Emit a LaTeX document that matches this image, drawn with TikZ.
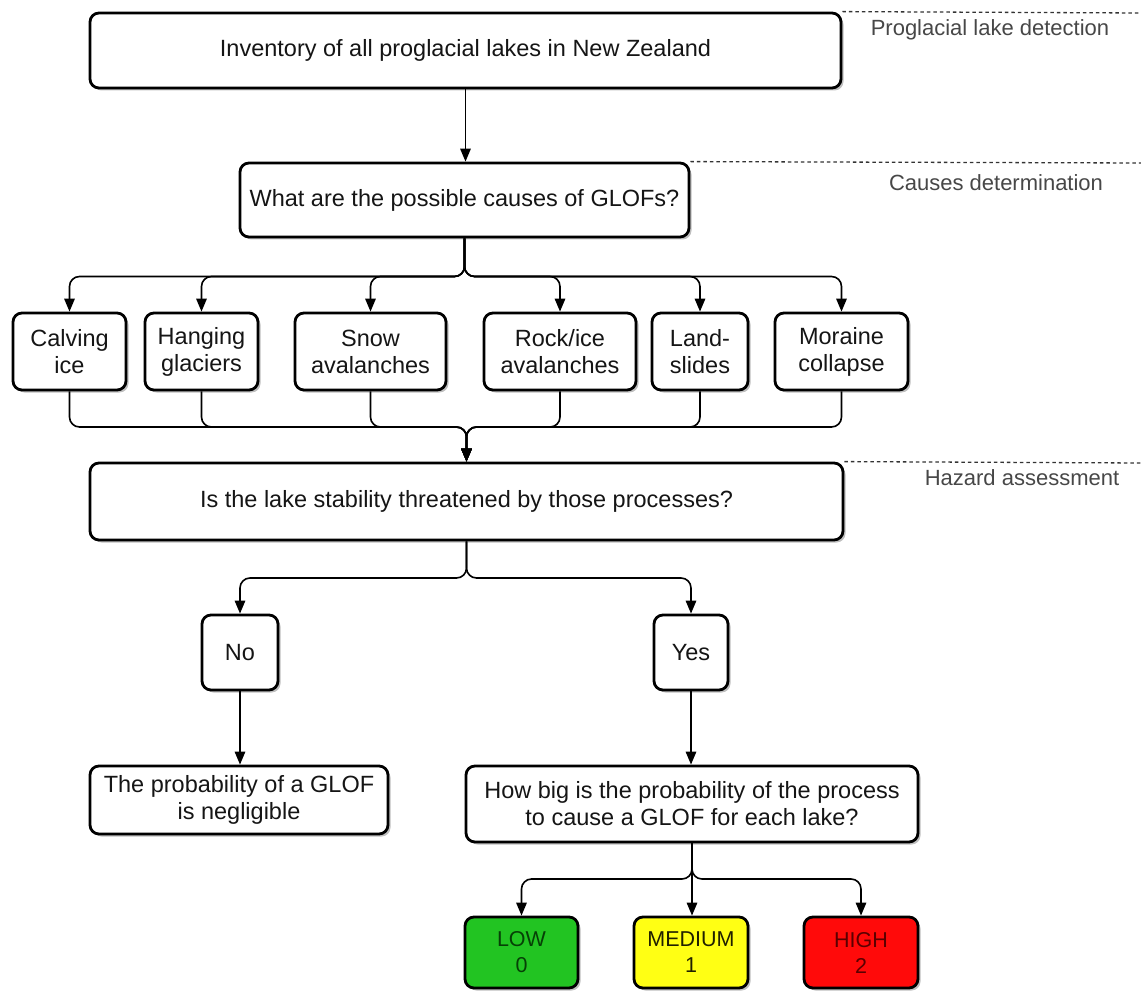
\documentclass[tikz,border=0pt]{standalone}
\usepackage{fontspec}
\setmainfont{Liberation Sans}
\usetikzlibrary{arrows.meta,shadows}
\definecolor{txt}{HTML}{151515}
\definecolor{lowfill}{HTML}{22C422}
\definecolor{lowtxt}{HTML}{064006}
\definecolor{medfill}{HTML}{FFFF14}
\definecolor{medtxt}{HTML}{202000}
\definecolor{highfill}{HTML}{FF0A0A}
\definecolor{hightxt}{HTML}{5A0000}
\begin{document}
\begin{tikzpicture}[x=1pt,y=-1pt,
  box/.style={draw=black, line width=2.8pt, rounded corners=9pt, fill=white, align=center,
    text=txt, inner sep=0pt, font=\fontsize{23.5}{27}\selectfont,
    drop shadow={shadow xshift=2.5pt, shadow yshift=-2.5pt, fill=black, opacity=0.25}},
  cause/.style={box, font=\fontsize{23.5}{27}\selectfont},
  level/.style={box, font=\fontsize{21.5}{26}\selectfont},
  conn/.style={line width=1.6pt, rounded corners=10pt},
  arr/.style={conn, -{Triangle[length=13pt,width=10.5pt]}},
  phase/.style={draw=black!80, line width=1.3pt, dash pattern=on 3.5pt off 3pt},
  lab/.style={text=black!72, font=\fontsize{22}{26}\selectfont, inner sep=0pt}]
\useasboundingbox (0,0) rectangle (1141,992);

% main boxes
\node[box, minimum width=751pt, minimum height=75pt] (top) at (465.5,50.5) {Inventory of all proglacial lakes in New Zealand};
\node[box, minimum width=449pt, minimum height=74pt] (q2) at (464.5,200) {What are the possible causes of GLOFs?};

% causes
\node[cause, minimum width=113pt, minimum height=77pt] (c1) at (69.5,351.5) {Calving\\ice};
\node[cause, minimum width=113pt, minimum height=77pt] (c2) at (201.5,351.5) {Hanging\\glaciers};
\node[cause, minimum width=151pt, minimum height=77pt] (c3) at (370.5,351.5) {Snow\\avalanches};
\node[cause, minimum width=152pt, minimum height=77pt] (c4) at (560,351.5) {Rock/ice\\avalanches};
\node[cause, minimum width=96pt, minimum height=77pt] (c5) at (700,351.5) {Land-\\slides};
\node[cause, minimum width=133pt, minimum height=77pt] (c6) at (841.5,351.5) {Moraine\\collapse};

\node[box, minimum width=753pt, minimum height=77pt] (q3) at (466.5,501.5) {Is the lake stability threatened by those processes?};

\node[box, minimum width=76pt, minimum height=75pt] (no) at (240,652.5) {No};
\node[box, minimum width=74pt, minimum height=75pt] (yes) at (691,652.5) {Yes};

\node[box, minimum width=298pt, minimum height=68pt] (neg) at (239,800) {The probability of a GLOF\\is negligible};
\node[box, minimum width=452pt, minimum height=76pt] (how) at (692,804) {How big is the probability of the process\\to cause a GLOF for each lake?};

\node[level, fill=lowfill, text=lowtxt, minimum width=113pt, minimum height=71pt] (low) at (521.5,952.5) {LOW\\0};
\node[level, fill=medfill, text=medtxt, minimum width=114pt, minimum height=71pt] (med) at (691,952.5) {MEDIUM\\1};
\node[level, fill=highfill, text=hightxt, minimum width=114pt, minimum height=71pt] (high) at (861,952.5) {HIGH\\2};

% phase labels
\coordinate (e1) at (1141,13);
\coordinate (e2) at (1141,163);
\coordinate (e3) at (1141,463);
\draw[phase] (top.north east) -- (e1);
\draw[phase] (q2.north east) -- (e2);
\draw[phase] (q3.north east) -- (e3);
\node[lab] (l1) at (990,30) {Proglacial lake detection};
\node[lab] (l2) at (996,183) {Causes determination};
\node[lab] (l3) at (1022,478) {Hazard assessment};

% connectors
\coordinate (s1) at (466,276.5);
\coordinate (m1) at (466,427);
\coordinate (s2) at (466,578);
\coordinate (s3) at (692,879);

\draw[arr] (top.south) -- (top.south |- q2.north);
\foreach \c in {c1,c2,c3,c4,c5,c6}{
  \draw[arr] (q2.south) -- (q2.south |- s1) -- (\c.north |- s1) -- (\c.north);
  \draw[arr] (\c.south) -- (\c.south |- m1) -- (q3.north |- m1) -- (q3.north);
}
\foreach \c in {no,yes}{
  \draw[arr] (q3.south) -- (q3.south |- s2) -- (\c.north |- s2) -- (\c.north);
}
\draw[arr] (no.south) -- (no.south |- neg.north);
\draw[arr] (yes.south) -- (yes.south |- how.north);
\foreach \c in {low,high}{
  \draw[arr] (how.south) -- (how.south |- s3) -- (\c.north |- s3) -- (\c.north);
}
\draw[arr] (how.south) -- (how.south |- med.north);
\end{tikzpicture}
\end{document}
